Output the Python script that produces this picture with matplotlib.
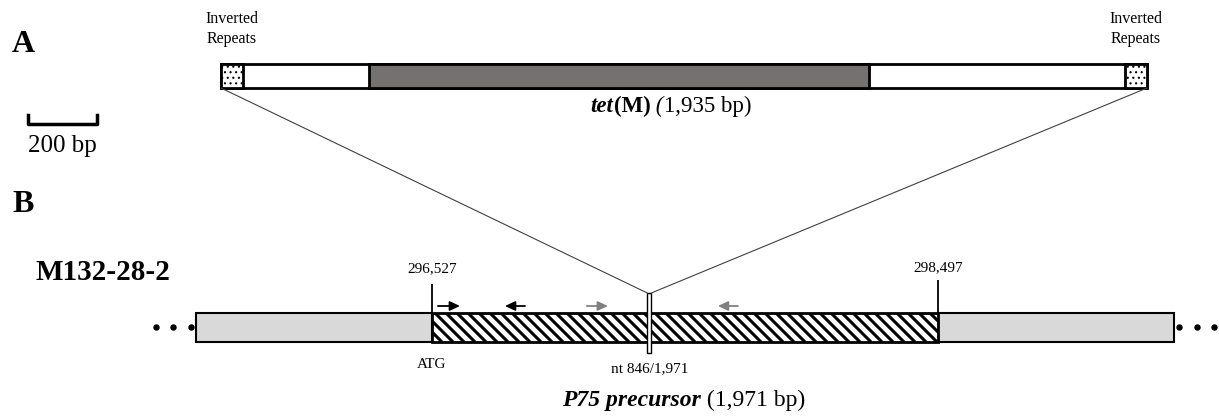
import numpy as np
import matplotlib.pyplot as plt
from matplotlib.patches import Rectangle, ConnectionPatch
from matplotlib.collections import LineCollection
from matplotlib.offsetbox import TextArea, HPacker, AnnotationBbox

plt.rcParams['font.family'] = ['Liberation Serif', 'DejaVu Serif']
plt.rcParams['hatch.linewidth'] = 0.8

# Panel A: transposon layout (schematic drawing units)
tn_start, tn_end = 221, 1147
ir_len = 22
tetm_start, tetm_end = 369, 869
tetm_len = 1935
scale_bp = 200

# Panel B: genome coordinates of M132-28-2
strain = 'M132-28-2'
p75_start, p75_end = 296527, 298497
p75_len = 1971
insert_nt = 846
flank = 920
# primers as (from nt, to nt) within P75, and which pair they belong to
primer_from = [23, 362, 603, 1191]
primer_to = [109, 284, 685, 1113]
primer_pair = [1, 1, 2, 2]

fig = plt.figure(figsize=(12.19, 4.16), dpi=100)
ax = fig.add_axes([0, 0, 1, 1])
ax.set_xlim(0, 1219)
ax.set_ylim(416, 0)
ax.axis('off')

# second axes in bp for panel B
px_per_bp = 506 / (p75_end - p75_start)
axb = fig.add_axes([0, 0, 1, 1])
axb.set_xlim(p75_start - 432 / px_per_bp, p75_start + (1219 - 432) / px_per_bp)
axb.set_ylim(416, 0)
axb.axis('off')

# ---- panel A ----
ax.text(12, 44, 'A', fontsize=23, fontweight='bold', va='center')
ax.add_patch(Rectangle((tn_start, 64), tn_end - tn_start, 24, fc='white', ec='black', lw=2))
ax.add_patch(Rectangle((tetm_start, 64), tetm_end - tetm_start, 24, fc='#767171', ec='black', lw=2))
for x in [tn_start, tn_end - ir_len]:
    ax.add_patch(Rectangle((x, 64), ir_len, 24, fc='white', ec='black', lw=2, hatch='...'))
for x in [tn_start + ir_len / 2, tn_end - ir_len / 2]:
    ax.text(x, 29, 'Inverted\nRepeats', ha='center', va='center', fontsize=11.5, linespacing=1.4)

# scale bar
sb_len = 69
ax.plot([28, 28, 28 + sb_len, 28 + sb_len], [115, 124, 124, 115], color='black', lw=2.5)
ax.text(28 + sb_len / 2, 146, f'{scale_bp} bp', ha='center', va='center', fontsize=18)

# tet(M) label
parts = [TextArea('tet', textprops=dict(fontsize=16.5, fontweight='bold', fontstyle='italic')),
         TextArea('(M)', textprops=dict(fontsize=16.5, fontweight='bold')),
         TextArea(' (', textprops=dict(fontsize=16.5, fontstyle='italic')),
         TextArea(f'{tetm_len:,} bp)', textprops=dict(fontsize=16.5))]
box = HPacker(children=parts, align='baseline', pad=0, sep=0)
ax.add_artist(AnnotationBbox(box, (671, 106), xycoords='data', frameon=False, pad=0))

# ---- panel B ----
ax.text(12, 205, 'B', fontsize=23, fontweight='bold', va='center')
ax.text(35, 273, strain, fontsize=21, fontweight='bold', va='center')

by, bh = 313, 29
axb.add_patch(Rectangle((p75_start - flank, by), flank, bh, fc='#d9d9d9', ec='black', lw=1.5))
axb.add_patch(Rectangle((p75_end, by), flank, bh, fc='#d9d9d9', ec='black', lw=1.5))
gene = Rectangle((p75_start, by), p75_end - p75_start, bh, fc='white', ec='none')
axb.add_patch(gene)
x0s = np.arange(380, 960, 11)
segs = [[(x, by), (x + bh, by + bh)] for x in x0s]
hatch = LineCollection(segs, colors='black', linewidths=2.2, transform=ax.transData, zorder=3)
axb.add_collection(hatch, autolim=False)
hatch.set_clip_path(gene)
axb.add_patch(Rectangle((p75_start, by), p75_end - p75_start, bh, fc='none', ec='black', lw=2, zorder=4))

# continuation dots
dot_off = np.array([20, 88, 156])
axb.plot(p75_start - flank - dot_off, [327] * 3, 'o', color='black', ms=3.6)
axb.plot(p75_end + flank + dot_off, [327] * 3, 'o', color='black', ms=3.6)

# boundary coordinates
axb.vlines([p75_start, p75_end], [284, 280], by, color='black', lw=1.3)
axb.text(p75_start, 269, f'{p75_start:,}', ha='center', va='center', fontsize=11)
axb.text(p75_end, 268, f'{p75_end:,}', ha='center', va='center', fontsize=11)
axb.text(p75_start, 365, 'ATG', ha='center', va='center', fontsize=11)

# primers
for a, b, p in zip(primer_from, primer_to, primer_pair):
    c = 'black' if p == 1 else '#808080'
    axb.annotate('', xy=(p75_start + b, 306), xytext=(p75_start + a, 306),
                 arrowprops=dict(arrowstyle='-|>,head_length=0.6,head_width=0.28',
                                 color=c, lw=1.3, shrinkA=0, shrinkB=0))

# insertion site
ins = p75_start + insert_nt
w = 4 / px_per_bp
axb.add_patch(Rectangle((ins - w / 2, 293), w, 60, fc='white', ec='black', lw=1, zorder=5))
axb.text(ins, 369, f'nt {insert_nt}/{p75_len:,}', ha='center', va='center', fontsize=11)

for xa, xb in [(tn_start, ins - w / 2), (tn_end, ins + w / 2)]:
    con = ConnectionPatch(xyA=(xa, 88), coordsA=ax.transData, xyB=(xb, 293), coordsB=axb.transData,
                          color='#404040', lw=0.8)
    fig.add_artist(con)

parts = [TextArea('P75 precursor', textprops=dict(fontsize=17, fontweight='bold', fontstyle='italic')),
         TextArea(f' ({p75_len:,} bp)', textprops=dict(fontsize=17))]
box = HPacker(children=parts, align='baseline', pad=0, sep=0)
axb.add_artist(AnnotationBbox(box, (ins + 34 / px_per_bp, 400), xycoords='data', frameon=False, pad=0))

fig.savefig('out.png', dpi=100)
